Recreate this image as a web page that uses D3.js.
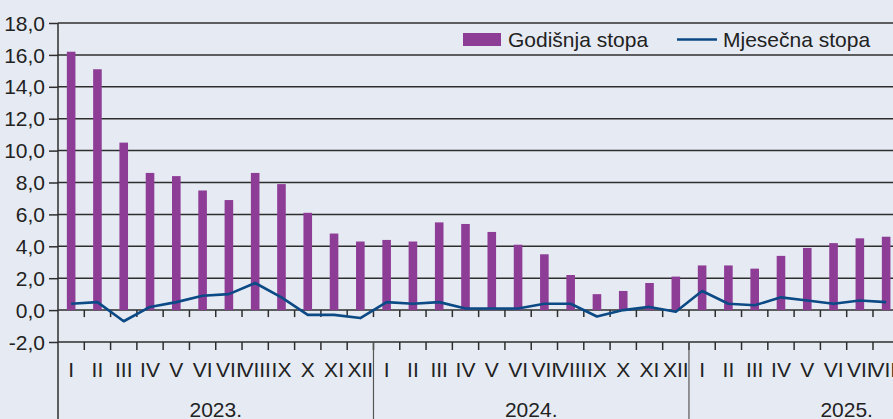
<!DOCTYPE html>
<html><head><meta charset="utf-8">
<script src="https://cdn.jsdelivr.net/npm/d3@7"></script>
<style>
html,body{margin:0;padding:0;background:#e6ebf3;}
svg{display:block;}
text{font-family:"Liberation Sans Narrow","Arial Narrow","Liberation Sans",sans-serif;fill:#222;}
</style></head>
<body><svg id="c" width="893" height="419"></svg>
<script>
const years = ["2023.", "2024.", "2025."];
const months = ["I","II","III","IV","V","VI","VII","VIII","IX","X","XI","XII"];
const monthsPerYear = [12, 12, 8];
const annualRate = [16.2,15.1,10.5,8.6,8.4,7.5,6.9,8.6,7.9,6.1,4.8,4.3,
                    4.4,4.3,5.5,5.4,4.9,4.1,3.5,2.2,1.0,1.2,1.7,2.1,
                    2.8,2.8,2.6,3.4,3.9,4.2,4.5,4.6];
const monthlyRate = [0.4,0.5,-0.7,0.2,0.5,0.9,1.0,1.7,0.8,-0.3,-0.3,-0.5,
                     0.5,0.4,0.5,0.1,0.1,0.1,0.4,0.4,-0.4,0.0,0.2,-0.1,
                     1.2,0.4,0.3,0.8,0.6,0.4,0.6,0.5];
const yTicks = [-2,0,2,4,6,8,10,12,14,16,18];
const seriesNames = ["Godišnja stopa","Mjesečna stopa"];

const cats = [];
years.forEach((yr,i)=>{ for(let m=0;m<12;m++) cats.push({id:yr+months[m], m:months[m], y:yr, yi:i}); });
const allCats = cats; // 36 slots; 32 with data
const svg = d3.select("#c");
const W = 893, H = 419;
const x0 = 58, x1 = 58 + 36*26.29;
const x = d3.scaleBand().domain(allCats.map(d=>d.id)).range([x0,x1]).paddingInner(0).paddingOuter(0);
const y = d3.scaleLinear().domain([-2,18]).range([342,23]);
const bw = x.bandwidth();
const gridColor = "#2e2e2e";
const barColor = "#8e3d97";
const lineColor = "#0c4a86";

const data = annualRate.map((v,i)=>({id:allCats[i].id, a:v, mo:monthlyRate[i]}));

// gridlines
svg.append("g").selectAll("line").data(yTicks).join("line")
  .attr("x1",x0).attr("x2",W).attr("y1",d=>y(d)).attr("y2",d=>y(d))
  .attr("stroke",gridColor).attr("stroke-width",1.5);

// y axis
const yAxis = d3.axisLeft(y).tickValues(yTicks).tickSize(9).tickPadding(4)
  .tickFormat(d=>d3.format(".1f")(d).replace(".",",").replace("−","-"));
const gy = svg.append("g").attr("transform",`translate(${x0},0)`).call(yAxis);
gy.select(".domain").remove();
gy.selectAll(".tick line").attr("stroke",gridColor).attr("stroke-width",1.5);
gy.selectAll(".tick text").attr("font-size",21).attr("fill","#222").attr("dy","0.34em")
  .style("font-family",'"Liberation Sans Narrow","Arial Narrow",sans-serif');
svg.append("line").attr("x1",x0).attr("x2",x0).attr("y1",23).attr("y2",H)
  .attr("stroke",gridColor).attr("stroke-width",1.5);

// bars
svg.append("g").selectAll("rect").data(data).join("rect")
  .attr("x",d=>x(d.id)+bw/2-4.3).attr("width",8.6)
  .attr("y",d=>y(Math.max(0,d.a))).attr("height",d=>Math.abs(y(d.a)-y(0)))
  .attr("fill",barColor);

// ticks on zero line and bottom line
const bounds = allCats.slice(1).map(d=>x(d.id));
const gz = svg.append("g").attr("transform",`translate(0,${y(0)})`)
  .call(d3.axisBottom(x).tickValues([]).tickSizeOuter(0));
gz.select(".domain").remove();
svg.append("g").selectAll("line").data(bounds).join("line")
  .attr("x1",d=>d).attr("x2",d=>d).attr("y1",y(0)).attr("y2",y(0)+7)
  .attr("stroke",gridColor).attr("stroke-width",1.5);

// bottom axis with month labels
const gb = svg.append("g").attr("transform",`translate(0,${y(-2)})`)
  .call(d3.axisBottom(x).tickSize(0).tickPadding(0).tickFormat(id=>allCats.find(c=>c.id===id).m));
gb.select(".domain").remove();
gb.selectAll(".tick text").attr("font-size",21).attr("fill","#111").attr("y",35).attr("dy",0)
  .style("font-family",'"Liberation Sans Narrow","Arial Narrow",sans-serif');
svg.append("g").selectAll("line").data(bounds).join("line")
  .attr("x1",d=>d).attr("x2",d=>d).attr("y1",y(-2)).attr("y2",y(-2)+8)
  .attr("stroke",gridColor).attr("stroke-width",1.5);

// year separators
const yearStarts = years.slice(1).map(yr=>x(yr+"I"));
svg.append("g").selectAll("line").data(yearStarts).join("line")
  .attr("x1",d=>d).attr("x2",d=>d).attr("y1",y(-2)).attr("y2",H)
  .attr("stroke","#555").attr("stroke-width",1.2);
svg.append("g").selectAll("text").data(years).join("text")
  .attr("x",yr=>(x(yr+"I")+x(yr+"XII")+bw)/2).attr("y",417)
  .attr("text-anchor","middle").attr("font-size",21).attr("fill","#222").text(d=>d);

// monthly line
const line = d3.line().x(d=>x(d.id)+bw/2).y(d=>y(d.mo));
svg.append("path").datum(data).attr("d",line).attr("fill","none")
  .attr("stroke",lineColor).attr("stroke-width",2.6).attr("stroke-linejoin","round");

// legend
const lg = svg.append("g");
lg.append("rect").attr("x",463).attr("y",33).attr("width",38).attr("height",13).attr("fill",barColor);
lg.append("text").attr("x",508).attr("y",47).attr("font-size",21).text(seriesNames[0]);
lg.append("line").attr("x1",677).attr("x2",717).attr("y1",39.5).attr("y2",39.5).attr("stroke",lineColor).attr("stroke-width",2.6);
lg.append("text").attr("x",723).attr("y",47).attr("font-size",21).text(seriesNames[1]);
</script></body></html>
